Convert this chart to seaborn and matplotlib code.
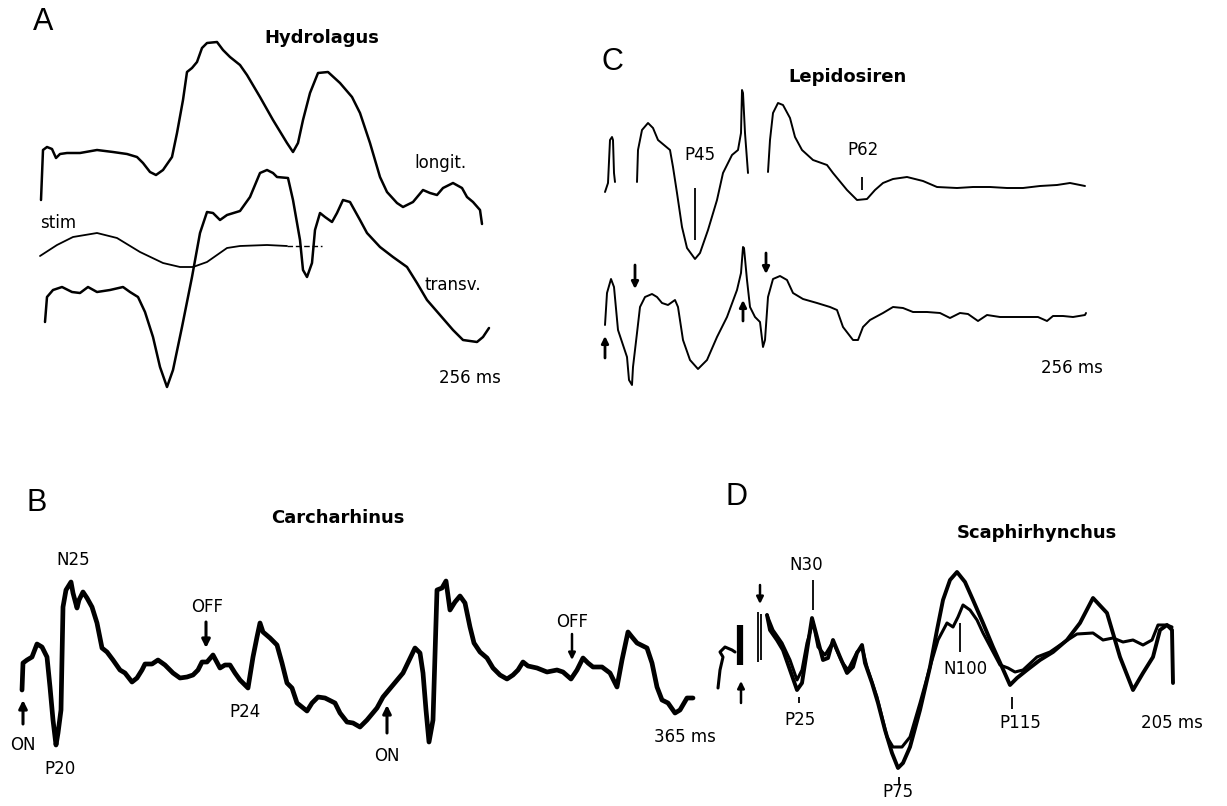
import matplotlib
matplotlib.use('Agg')
import matplotlib.pyplot as plt
import seaborn as sns
import pandas as pd

# traces (x: horizontal, y: vertical, page units)
a_longit_x = [41, 43, 47, 52, 56, 60, 67, 80, 97, 113, 127, 137, 143, 150, 156, 163, 172, 177, 183, 187, 192, 197, 202, 207, 217, 223, 230, 240, 247, 260, 273, 287, 293, 298, 303, 310, 318, 328, 340, 352, 360, 370, 380, 387, 397, 403, 413, 423, 430, 437, 443, 453, 462, 467, 473, 480, 482]
a_longit_y = [200, 150, 147, 149, 158, 154, 153, 153, 150, 152, 154, 157, 163, 172, 175, 170, 157, 133, 100, 72, 68, 62, 48, 43, 42, 50, 57, 65, 75, 97, 120, 143, 152, 143, 120, 93, 73, 72, 83, 97, 113, 143, 177, 192, 203, 207, 202, 190, 193, 195, 188, 183, 188, 197, 202, 210, 224]

a_transv_x = [45, 47, 53, 62, 72, 80, 88, 97, 110, 123, 130, 138, 145, 153, 160, 167, 173, 182, 192, 200, 207, 213, 220, 227, 240, 250, 260, 267, 273, 277, 288, 293, 300, 303, 307, 312, 315, 320, 325, 332, 337, 343, 350, 360, 367, 380, 393, 407, 417, 427, 440, 453, 463, 477, 483, 489]
a_transv_y = [322, 297, 290, 287, 292, 293, 287, 292, 290, 287, 292, 297, 312, 337, 367, 387, 370, 327, 277, 233, 212, 213, 220, 215, 211, 197, 173, 170, 173, 177, 178, 200, 240, 270, 277, 263, 230, 213, 217, 222, 213, 200, 202, 220, 233, 247, 257, 267, 283, 300, 315, 330, 340, 342, 337, 328]

a_stim_x = [40, 57, 73, 97, 117, 140, 163, 180, 193, 207, 227, 240, 267, 287]
a_stim_y = [256, 245, 237, 233, 238, 252, 263, 267, 267, 262, 248, 246, 245, 246]
a_stim_tail_x = [287, 322]
a_stim_tail_y = [246, 246]

c_top1_x = [605, 608, 610, 612, 613, 614, 615]
c_top1_y = [192, 183, 140, 137, 140, 173, 182]
c_top2_x = [637, 638, 642, 648, 653, 658, 670, 673, 677, 682, 687, 695, 700, 708, 717, 723, 732, 738, 741, 742, 743, 745, 748]
c_top2_y = [182, 150, 130, 123, 128, 140, 150, 167, 193, 227, 248, 259, 253, 230, 200, 173, 155, 150, 133, 90, 93, 133, 173]
c_top3_x = [768, 770, 773, 778, 783, 790, 795, 802, 813, 827, 833, 847, 857, 867, 875, 883, 893, 907, 923, 937, 957, 973, 990, 1007, 1023, 1040, 1057, 1070, 1085]
c_top3_y = [172, 140, 113, 103, 105, 118, 137, 150, 160, 165, 173, 190, 200, 199, 190, 183, 179, 177, 181, 187, 188, 187, 187, 188, 188, 186, 185, 183, 186]

c_bot_x = [605, 607, 611, 614, 618, 623, 627, 629, 632, 633, 637, 640, 645, 652, 657, 662, 668, 675, 678, 683, 690, 698, 707, 717, 727, 737, 741, 743, 744, 747, 750, 755, 760, 763, 765, 768, 773, 780, 787, 793, 803, 817, 830, 837, 843, 853, 858, 863, 870, 883, 893, 903, 913, 927, 940, 950, 960, 968, 978, 987, 1000, 1013, 1027, 1038, 1047, 1053, 1063, 1073, 1085, 1086]
c_bot_y = [325, 293, 279, 287, 330, 345, 357, 380, 385, 367, 333, 307, 297, 294, 297, 303, 305, 300, 307, 340, 360, 369, 360, 337, 317, 290, 273, 247, 248, 280, 307, 317, 322, 347, 340, 297, 279, 276, 280, 293, 299, 303, 307, 310, 327, 340, 340, 327, 320, 313, 307, 308, 312, 312, 313, 318, 313, 314, 321, 315, 317, 317, 317, 317, 321, 316, 316, 317, 315, 313]

b_x = [22, 23, 27, 32, 37, 42, 47, 50, 53, 56, 58, 61, 63, 66, 71, 73, 77, 79, 83, 87, 92, 97, 102, 107, 113, 120, 125, 132, 137, 142, 145, 152, 158, 165, 173, 180, 187, 193, 198, 202, 207, 213, 220, 225, 230, 235, 240, 248, 253, 257, 260, 263, 270, 277, 282, 287, 292, 297, 302, 307, 312, 318, 325, 335, 340, 347, 353, 360, 367, 377, 383, 393, 403, 415, 420, 423, 426, 429, 433, 437, 442, 446, 450, 455, 460, 465, 470, 474, 480, 487, 493, 500, 507, 513, 518, 523, 528, 537, 547, 557, 563, 571, 577, 583, 588, 593, 602, 610, 617, 622, 628, 632, 637, 647, 652, 657, 662, 668, 675, 680, 687, 693]
b_y = [690, 663, 660, 657, 644, 647, 657, 687, 720, 745, 733, 710, 607, 590, 582, 593, 608, 600, 592, 598, 607, 623, 648, 652, 660, 670, 673, 682, 678, 670, 664, 664, 660, 665, 673, 678, 677, 675, 670, 662, 662, 655, 668, 665, 665, 673, 680, 688, 657, 637, 623, 632, 638, 645, 663, 683, 688, 703, 707, 711, 703, 697, 698, 703, 713, 722, 723, 727, 720, 708, 697, 685, 673, 648, 653, 673, 710, 742, 720, 590, 588, 581, 610, 602, 596, 603, 627, 643, 652, 658, 668, 675, 679, 675, 670, 662, 666, 668, 672, 670, 672, 679, 670, 658, 663, 667, 667, 673, 687, 660, 632, 637, 643, 648, 663, 687, 700, 703, 713, 710, 698, 698]

d_one_x = [767, 770, 777, 783, 790, 797, 802, 806, 812, 817, 823, 828, 833, 840, 847, 853, 857, 862, 865, 872, 878, 885, 892, 898, 903, 910, 920, 930, 937, 943, 950, 957, 965, 973, 983, 993, 1002, 1010, 1017, 1027, 1040, 1053, 1067, 1080, 1093, 1107, 1120, 1133, 1143, 1153, 1160, 1167, 1172, 1173]
d_one_y = [615, 630, 640, 650, 670, 690, 683, 657, 618, 637, 660, 658, 640, 657, 673, 667, 653, 645, 663, 683, 703, 730, 753, 768, 763, 747, 710, 667, 630, 600, 580, 572, 582, 600, 623, 647, 667, 685, 678, 670, 660, 652, 640, 623, 598, 613, 657, 690, 673, 657, 630, 625, 630, 683]
d_two_x = [767, 773, 782, 790, 797, 802, 807, 813, 818, 825, 833, 842, 848, 857, 862, 867, 877, 887, 893, 902, 910, 920, 930, 938, 947, 953, 958, 963, 970, 977, 983, 992, 1000, 1008, 1015, 1023, 1037, 1050, 1063, 1077, 1093, 1103, 1113, 1123, 1133, 1143, 1152, 1158, 1167, 1172]
d_two_y = [615, 630, 643, 660, 680, 670, 643, 622, 647, 655, 642, 662, 670, 652, 647, 667, 697, 737, 747, 747, 737, 703, 667, 640, 623, 627, 617, 605, 610, 620, 633, 650, 665, 668, 672, 670, 657, 652, 643, 634, 633, 640, 638, 642, 640, 645, 640, 625, 625, 627]
d_stim_x = [718, 720, 723, 720, 725, 732, 735]
d_stim_y = [688, 670, 657, 652, 647, 650, 652]

sns.set_style('white')
plt.rcParams['font.family'] = ['DejaVu Sans']
plt.rcParams['text.color'] = 'black'

fig = plt.figure(figsize=(12.27, 8.06), dpi=100)
ax = fig.add_axes([0, 0, 1, 1])


def trace(xs, ys, lw, **kw):
    sns.lineplot(x=xs, y=ys, sort=False, estimator=None, color='black',
                 lw=lw, ax=ax, legend=False, **kw)


def arrow(x, y0, y1, lw=2.2, ms=12):
    ax.annotate('', xy=(x, y1), xytext=(x, y0),
                arrowprops=dict(arrowstyle='-|>', color='black', lw=lw,
                                mutation_scale=ms, shrinkA=0, shrinkB=0))


# panel A
trace(a_longit_x, a_longit_y, 1.8)
trace(a_transv_x, a_transv_y, 1.8)
trace(a_stim_x, a_stim_y, 1.3)
trace(a_stim_tail_x, a_stim_tail_y, 1.0, linestyle=(0, (4, 2)))

# panel C
for xs, ys in [(c_top1_x, c_top1_y), (c_top2_x, c_top2_y), (c_top3_x, c_top3_y), (c_bot_x, c_bot_y)]:
    trace(xs, ys, 1.4)
ax.vlines([695, 862], [188, 177], [240, 190], color='black', lw=1.3)
arrow(605, 358, 336, lw=2.0, ms=10)
arrow(635, 265, 289, lw=2.0, ms=10)
arrow(743, 321, 300, lw=2.0, ms=10)
arrow(766, 253, 274, lw=2.0, ms=10)

# panel B
trace(b_x, b_y, 3.4)
arrow(23, 724, 700)
arrow(206, 622, 648)
arrow(387, 733, 705)
arrow(572, 634, 660, lw=1.8, ms=10)

# panel D
trace(d_one_x, d_one_y, 2.8)
trace(d_two_x, d_two_y, 2.2)
trace(d_stim_x, d_stim_y, 2.2)
ax.vlines([740], [625], [665], color='black', lw=4.5)
ax.vlines([758, 761], [612, 614], [662, 660], color='black', lw=1.3)
ax.vlines([813, 799, 899, 960, 1012], [580, 697, 777, 623, 697], [610, 703, 784, 652, 709], color='black', lw=1.3)
arrow(760, 585, 604, lw=1.8, ms=10)
arrow(741, 703, 681, lw=1.8, ms=10)

# text
for s, x, y in [('A', 43, 22), ('C', 612, 62), ('B', 37, 503), ('D', 736, 497)]:
    ax.text(x, y, s, fontsize=22, ha='center', va='center', color='black',
            family=['Liberation Sans', 'DejaVu Sans'])
for s, x, y in [('Hydrolagus', 322, 38), ('Lepidosiren', 847, 77), ('Carcharhinus', 338, 518), ('Scaphirhynchus', 1037, 533)]:
    ax.text(x, y, s, fontsize=13, ha='center', va='center', fontweight='bold', color='black')
labels = [('longit.', 440, 163), ('stim', 58, 223), ('transv.', 453, 285), ('256 ms', 470, 378),
          ('P45', 700, 155), ('P62', 863, 150), ('256 ms', 1072, 368),
          ('N25', 73, 560), ('OFF', 207, 607), ('P24', 245, 712), ('ON', 23, 745), ('P20', 60, 769),
          ('ON', 387, 756), ('OFF', 572, 622), ('365 ms', 685, 737),
          ('N30', 806, 565), ('P25', 800, 720), ('P75', 898, 792), ('N100', 965, 669),
          ('P115', 1020, 723), ('205 ms', 1172, 723)]
for s, x, y in labels:
    ax.text(x, y, s, fontsize=12, ha='center', va='center', color='black')

ax.set_xlim(0, 1227)
ax.set_ylim(806, 0)
ax.axis('off')
plt.savefig('out.png', dpi=100)
